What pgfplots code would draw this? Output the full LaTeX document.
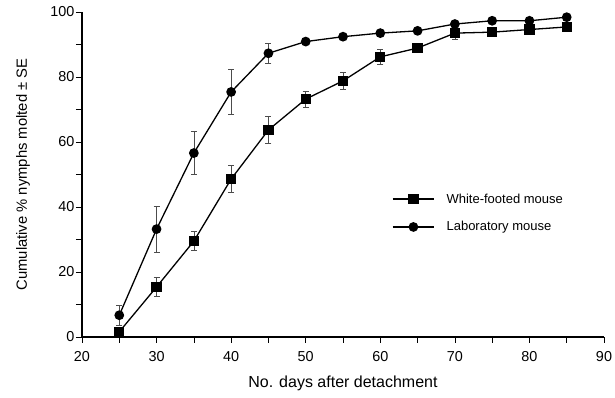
\documentclass[border=0pt]{standalone}
\usepackage{fontspec}
\setmainfont{Liberation Sans}
\usepackage{pgfplots}
\pgfplotsset{compat=1.18}
\begin{document}
\begin{tikzpicture}
\begin{axis}[
  name=ax,
  scale only axis,
  width=522pt, height=325pt,
  xmin=20, xmax=90, ymin=0, ymax=100,
  axis x line*=bottom, axis y line*=left,
  axis line style={line width=1.4pt},
  xtick={20,30,...,90}, minor xtick={25,35,...,85},
  ytick={0,20,...,100}, minor ytick={10,30,...,90},
  tick align=outside,
  major tick length=6pt, minor tick length=6pt,
  tick style={black, line width=0.6pt},
  font=\fontsize{14.4}{16}\selectfont,
  /pgf/number format/assume math mode=true,
  xticklabel style={yshift=-5pt},
  yticklabel style={xshift=2pt},
  xlabel={No. days after detachment},
  ylabel={Cumulative \% nymphs molted ± SE},
  xlabel style={at={(axis description cs:0.5,-0.1415)}, anchor=center, font=\fontsize{16}{18}\selectfont},
  ylabel style={at={(axis description cs:-0.113,0.5)}, anchor=center, font=\fontsize{14.8}{17}\selectfont},
  error bars/error bar style={line width=0.6pt, gray!60!black},
  error bars/error mark options={rotate=90, mark size=3pt, line width=0.6pt, gray!60!black},
  legend style={draw=none, fill=none, at={(0.594,0.3815)}, anchor=west,
    font=\fontsize{13}{15}\selectfont, row sep=13pt, inner sep=0pt},
  legend cell align=left,
  legend image code/.code={
    \draw[#1] (0pt,0pt) -- (41pt,0pt);
    \draw[#1, mark repeat=2, mark phase=2] plot coordinates {(0pt,0pt) (20.5pt,0pt) (41pt,0pt)};
    \path (51pt,0pt);
  },
  clip=false,
]
\addplot[black, line width=1.3pt, mark=square*, mark size=4.5pt, mark options={solid, fill=black},
  error bars/.cd, y dir=both, y explicit]
  coordinates {
  (25,1.6) +- (0,0)
  (30,15.4) +- (0,3.0)
  (35,29.5) +- (0,2.9)
  (40,48.6) +- (0,4.1)
  (45,63.7) +- (0,4.1)
  (50,73.2) +- (0,2.4)
  (55,78.8) +- (0,2.6)
  (60,86.2) +- (0,2.2)
  (65,88.9) +- (0,0)
  (70,93.5) +- (0,2.0)
  (75,93.8) +- (0,0)
  (80,94.6) +- (0,0)
  (85,95.4) +- (0,0)
  };
\addlegendentry{White-footed mouse}
\addplot[black, line width=1.3pt, mark=*, mark size=4.2pt, mark options={solid, fill=black},
  error bars/.cd, y dir=both, y explicit]
  coordinates {
  (25,6.7) +- (0,3.0)
  (30,33.2) +- (0,7.0)
  (35,56.6) +- (0,6.6)
  (40,75.4) +- (0,7.0)
  (45,87.3) +- (0,3.0)
  (50,90.9) +- (0,0)
  (55,92.4) +- (0,0)
  (60,93.5) +- (0,0)
  (65,94.2) +- (0,0)
  (70,96.3) +- (0,0)
  (75,97.3) +- (0,0)
  (80,97.3) +- (0,0)
  (85,98.4) +- (0,0)
  };
\addlegendentry{Laboratory mouse}
\end{axis}
\pgfresetboundingbox
\path ([xshift=-82pt,yshift=-61pt]ax.south west) rectangle ([xshift=11pt,yshift=12pt]ax.north east);
\end{tikzpicture}
\end{document}
